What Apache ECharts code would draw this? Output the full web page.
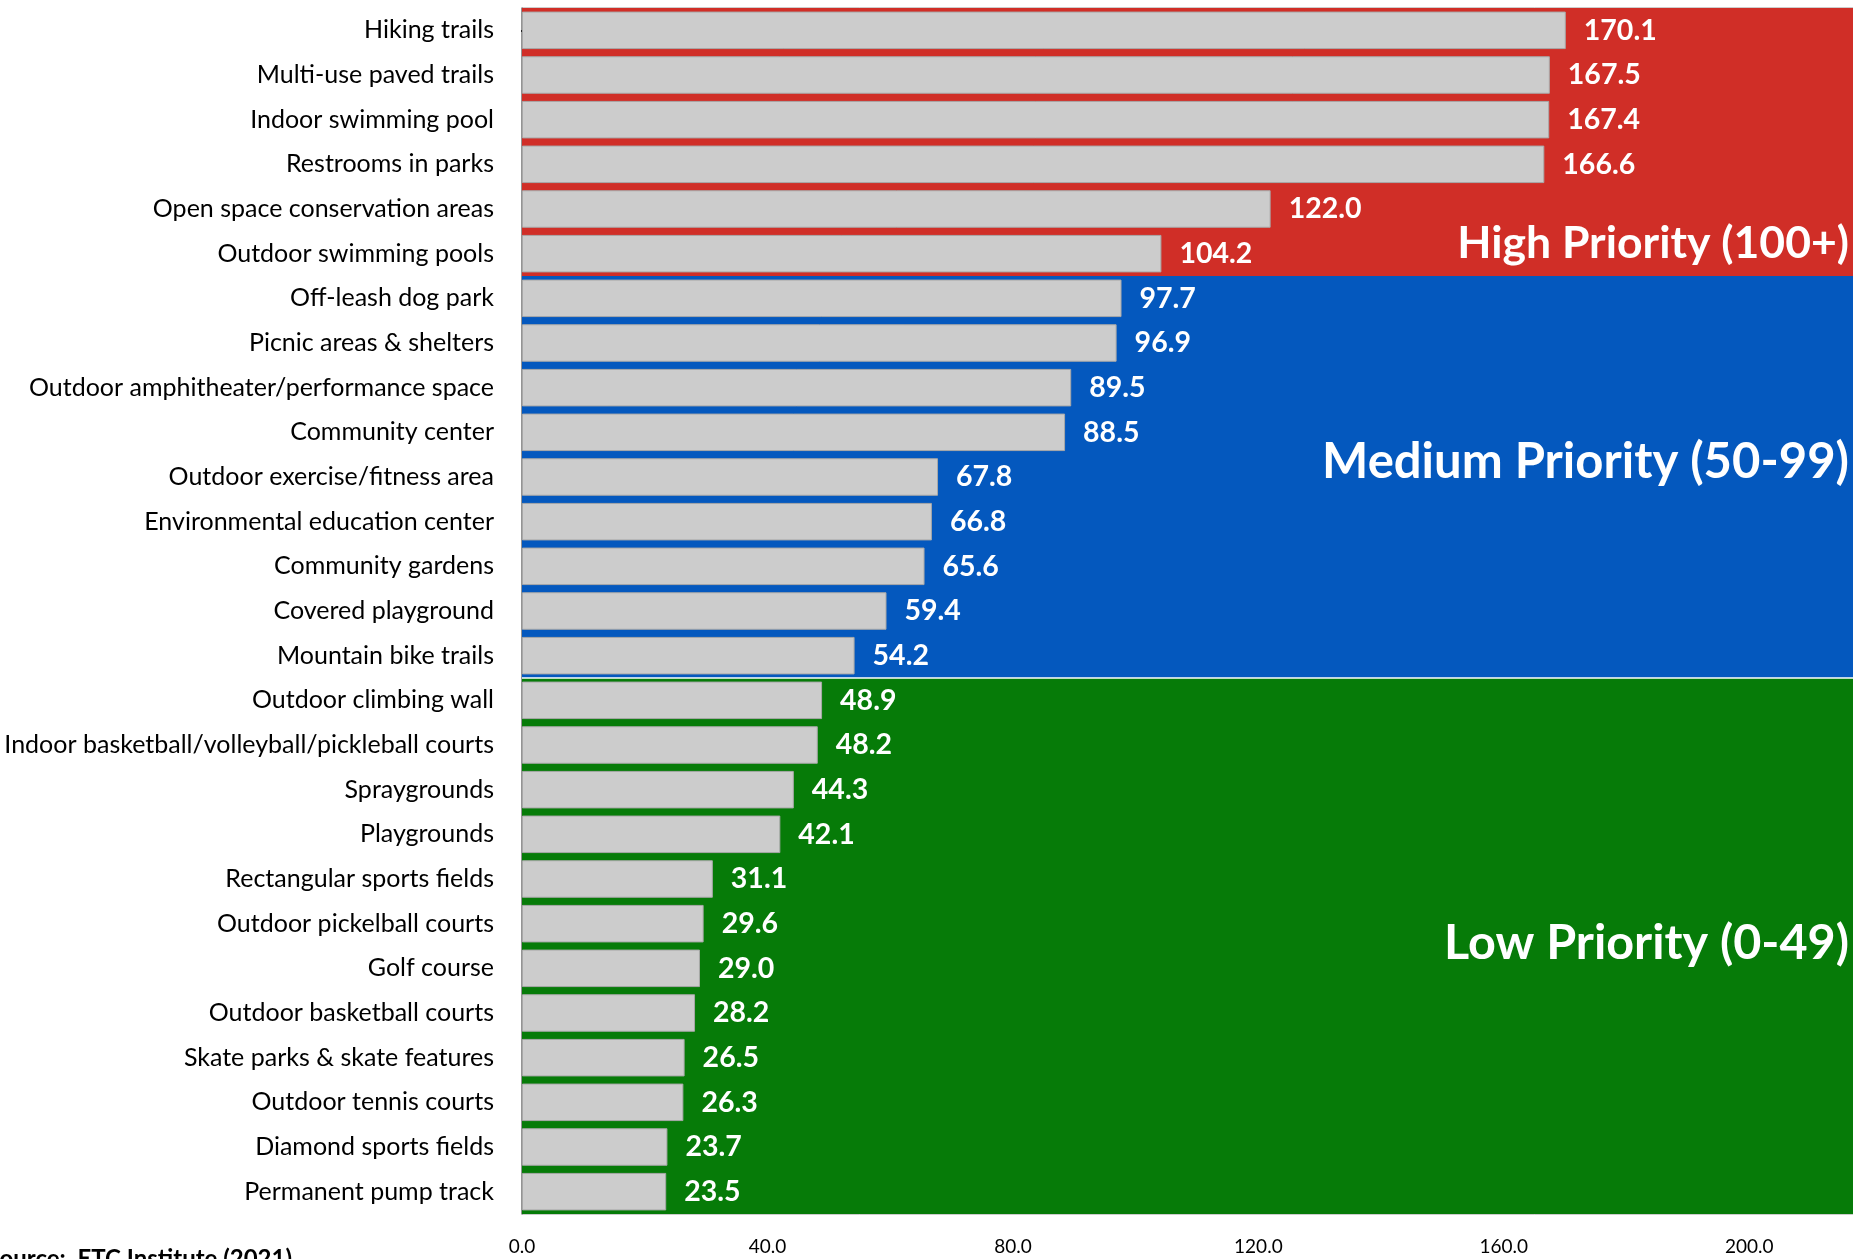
<!DOCTYPE html>
<html>
<head>
<meta charset="utf-8">
<script src="https://cdn.jsdelivr.net/npm/echarts@6/dist/echarts.min.js"></script>
<style>
html,body{margin:0;padding:0;background:#fff;overflow:hidden;width:1853px;height:1259px;}
#chart{width:1872px;height:1259px;}
</style>
</head>
<body>
<div id="chart"></div>
<script>
const categories = [
  "Hiking trails","Multi-use paved trails","Indoor swimming pool","Restrooms in parks",
  "Open space conservation areas","Outdoor swimming pools","Off-leash dog park",
  "Picnic areas & shelters","Outdoor amphitheater/performance space","Community center",
  "Outdoor exercise/fitness area","Environmental education center","Community gardens",
  "Covered playground","Mountain bike trails","Outdoor climbing wall",
  "Indoor basketball/volleyball/pickleball courts","Spraygrounds","Playgrounds",
  "Rectangular sports fields","Outdoor pickelball courts","Golf course",
  "Outdoor basketball courts","Skate parks & skate features","Outdoor tennis courts",
  "Diamond sports fields","Permanent pump track"
];
const scores = [170.1,167.5,167.4,166.6,122.0,104.2,97.7,96.9,89.5,88.5,67.8,66.8,65.6,59.4,54.2,48.9,48.2,44.3,42.1,31.1,29.6,29.0,28.2,26.5,26.3,23.7,23.5];
const tierLabels = ["High Priority (100+)","Medium Priority (50-99)","Low Priority (0-49)"];
const tierColors = ["#D02E27","#0458BE","#067B08"];
const xTicks = [0,40,80,120,160,200];
const xMax = 220;
const sourceText = "Source:  ETC Institute (2021)";

function tierOf(v){ return v >= 100 ? 0 : (v >= 50 ? 1 : 2); }

// band ranges (in row-index units) for each tier, derived from the scores
const tierBands = tierColors.map((c, t) => {
  const idx = scores.map((v, i) => tierOf(v) === t ? i : -1).filter(i => i >= 0);
  return [{yAxis: idx[0] - 0.5, xAxis: 0, itemStyle: {color: c, opacity: 1}}, {yAxis: idx[idx.length - 1] + 0.5, xAxis: xMax}];
});
// boundary between medium and low tiers
const lowStart = scores.findIndex(v => tierOf(v) === 2) - 0.5;

const FONT = "Lato";
const chart = echarts.init(document.getElementById('chart'));
chart.setOption({
  animation: false,
  backgroundColor: '#ffffff',
  grid: {left: 522, right: 0, top: 8, bottom: 45, show: true, borderColor: '#9a9a9a', borderWidth: 1, backgroundColor: 'transparent'},
  xAxis: {
    type: 'value', min: 0, max: xMax, interval: 40,
    axisLine: {show: true, lineStyle: {color: '#000', width: 2}},
    axisTick: {show: false},
    splitLine: {show: false},
    axisLabel: {
      showMaxLabel: false, color: '#000', fontFamily: FONT, fontSize: 19, margin: 23,
      formatter: v => xTicks.indexOf(v) >= 0 ? v.toFixed(1) : ''
    }
  },
  yAxis: [{
    type: 'category', data: categories, inverse: true,
    axisLine: {show: true, lineStyle: {color: '#808080', width: 1.5}},
    axisTick: {show: false},
    splitLine: {show: false},
    axisLabel: {color: '#000', fontFamily: FONT, fontSize: 25, margin: 28}
  },{
    type: 'value', min: -0.5, max: categories.length - 0.5, inverse: true, show: false,
    splitLine: {show: false}
  }],
  series: [{
    type: 'scatter', yAxisIndex: 1, data: [], silent: true, z: 1,
    markArea: {silent: true, z: 1, data: tierBands},
    markLine: {silent: true, symbol: 'none', z: 2, label: {show: false},
      lineStyle: {color: '#ffffff', width: 1.5, type: 'solid'},
      data: [{yAxis: lowStart}]}
  },{
    type: 'bar', yAxisIndex: 0, barWidth: '84%', z: 3,
    data: scores,
    itemStyle: {color: '#CCCCCC', borderColor: '#A8A8A8', borderWidth: 1},
    label: {
      show: true, position: 'right', distance: 18, color: '#fff',
      fontFamily: FONT, fontWeight: 'bold', fontSize: 28.5,
      formatter: p => p.value.toFixed(1)
    }
  }],
  graphic: [
    {type: 'text', right: 23, top: 221, z: 10, style: {text: tierLabels[0], fill: '#fff', font: 'bold 44.5px ' + FONT}},
    {type: 'text', right: 23, top: 438, z: 10, style: {text: tierLabels[1], fill: '#fff', font: 'bold 49px ' + FONT}},
    {type: 'text', right: 23, top: 919, z: 10, style: {text: tierLabels[2], fill: '#fff', font: 'bold 48.5px ' + FONT}},
    {type: 'text', z: 10, style: {x: 292, y: 1259, text: sourceText, textAlign: 'right', textVerticalAlign: 'middle', fill: '#000', font: 'bold 24px ' + FONT}}
  ]
});
</script>
</body>
</html>
